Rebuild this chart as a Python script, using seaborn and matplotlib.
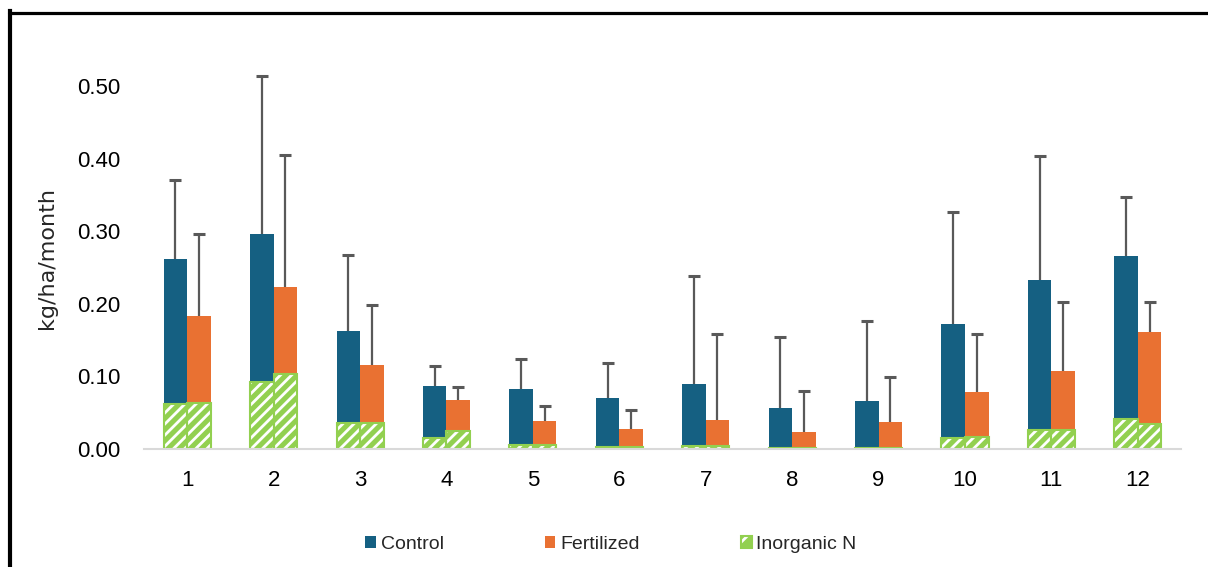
import numpy as np
import pandas as pd
import matplotlib
matplotlib.use('Agg')
import matplotlib.pyplot as plt
from matplotlib.patches import Patch
from matplotlib.lines import Line2D
import seaborn as sns

# data
months = [str(m) for m in range(1, 13)]
control_mean = [0.262, 0.297, 0.163, 0.087, 0.083, 0.071, 0.089, 0.056, 0.066, 0.173, 0.233, 0.266]
control_err = [0.109, 0.217, 0.105, 0.027, 0.041, 0.048, 0.149, 0.099, 0.111, 0.154, 0.171, 0.082]
fert_mean = [0.183, 0.224, 0.116, 0.068, 0.038, 0.028, 0.040, 0.024, 0.037, 0.078, 0.108, 0.161]
fert_err = [0.114, 0.181, 0.082, 0.017, 0.021, 0.026, 0.118, 0.056, 0.062, 0.081, 0.095, 0.042]
inorg_control = [0.062, 0.092, 0.036, 0.015, 0.006, 0.003, 0.004, 0.002, 0.002, 0.015, 0.026, 0.042]
inorg_fert = [0.063, 0.103, 0.036, 0.025, 0.006, 0.003, 0.004, 0.002, 0.002, 0.017, 0.026, 0.034]

BLUE = '#156082'
ORANGE = '#E97132'
GREEN = '#92D050'
ERR = '#595959'

sns.set_theme(style='white')
plt.rcParams['font.family'] = ['Liberation Sans', 'DejaVu Sans']
plt.rcParams['hatch.linewidth'] = 2.0

totals = pd.DataFrame({
    'month': months * 2,
    'value': control_mean + fert_mean,
    'group': ['Control'] * 12 + ['Fertilized'] * 12,
})
inorg = pd.DataFrame({
    'month': months * 2,
    'value': inorg_control + inorg_fert,
    'group': ['Control'] * 12 + ['Fertilized'] * 12,
})

fig = plt.figure(figsize=(12.08, 5.67), dpi=100)
ax = fig.add_axes([0.1192, 0.2081, 0.8585, 0.7037])

bar_kw = dict(x='month', y='value', hue='group', order=months, hue_order=['Control', 'Fertilized'],
              width=0.544, gap=0, errorbar=None, saturation=1, legend=False, ax=ax)

sns.barplot(data=totals, palette=[BLUE, ORANGE], linewidth=0, **bar_kw)

# upper-only error bars at the bar centres (line + cap at the top only)
for cont, errs in zip(ax.containers[:2], [control_err, fert_err]):
    xs = np.array([p.get_x() + p.get_width() / 2 for p in cont.patches])
    ys = np.array([p.get_height() for p in cont.patches])
    tops = ys + np.array(errs)
    ax.vlines(xs, ys, tops, color=ERR, linewidth=1.6, zorder=3)
    ax.plot(xs, tops, linestyle='none', marker='_', markersize=9, markeredgewidth=2.2,
            color=ERR, zorder=3)

sns.barplot(data=inorg, palette=[GREEN, GREEN], hatch='///', edgecolor='white', linewidth=0, **bar_kw)
sns.barplot(data=inorg, palette=[GREEN, GREEN], fill=False, linewidth=1.5, **bar_kw)

ax.set_xlim(-0.5, 11.5)
ax.set_ylim(0, 0.55)
ax.set_yticks(np.arange(0, 0.51, 0.1))
ax.set_yticklabels([f'{v:.2f}' for v in np.arange(0, 0.51, 0.1)])
ax.tick_params(axis='both', length=0, labelsize=16, colors='black')
ax.tick_params(axis='y', pad=17)
ax.tick_params(axis='x', pad=15)
ax.set_xlabel('')
ax.set_ylabel('kg/ha/month', fontsize=16, family=['DejaVu Sans'])
ax.yaxis.set_label_coords(-0.0839, 0.478)

for side in ['left', 'right', 'top']:
    ax.spines[side].set_visible(False)
ax.spines['bottom'].set_color('#D9D9D9')
ax.spines['bottom'].set_linewidth(1.5)

handles = [
    Patch(facecolor=BLUE, edgecolor='none'),
    Patch(facecolor=ORANGE, edgecolor='none'),
    (Patch(facecolor=GREEN, edgecolor='white', hatch='//', linewidth=0),
     Patch(fill=False, edgecolor=GREEN, linewidth=1.5)),
]
fig.legend(handles, ['Control', 'Fertilized', 'Inorganic N'], ncol=3, frameon=False,
           loc='center left', bbox_to_anchor=(0.3022, 0.040), borderpad=0, borderaxespad=0,
           handlelength=0.55, handleheight=0.6, handletextpad=0.25, columnspacing=5.2,
           prop={'size': 14})

# black frame of the cropped screenshot
fig.add_artist(Line2D([10.3 / 1208, 10.3 / 1208], [0, 1 - 11 / 567], color='black', linewidth=3,
                      transform=fig.transFigure, solid_capstyle='projecting'))
fig.add_artist(Line2D([9 / 1208, 1], [1 - 12.5 / 567, 1 - 12.5 / 567], color='black', linewidth=2.3,
                      transform=fig.transFigure))

fig.savefig('out.png', dpi=100)
